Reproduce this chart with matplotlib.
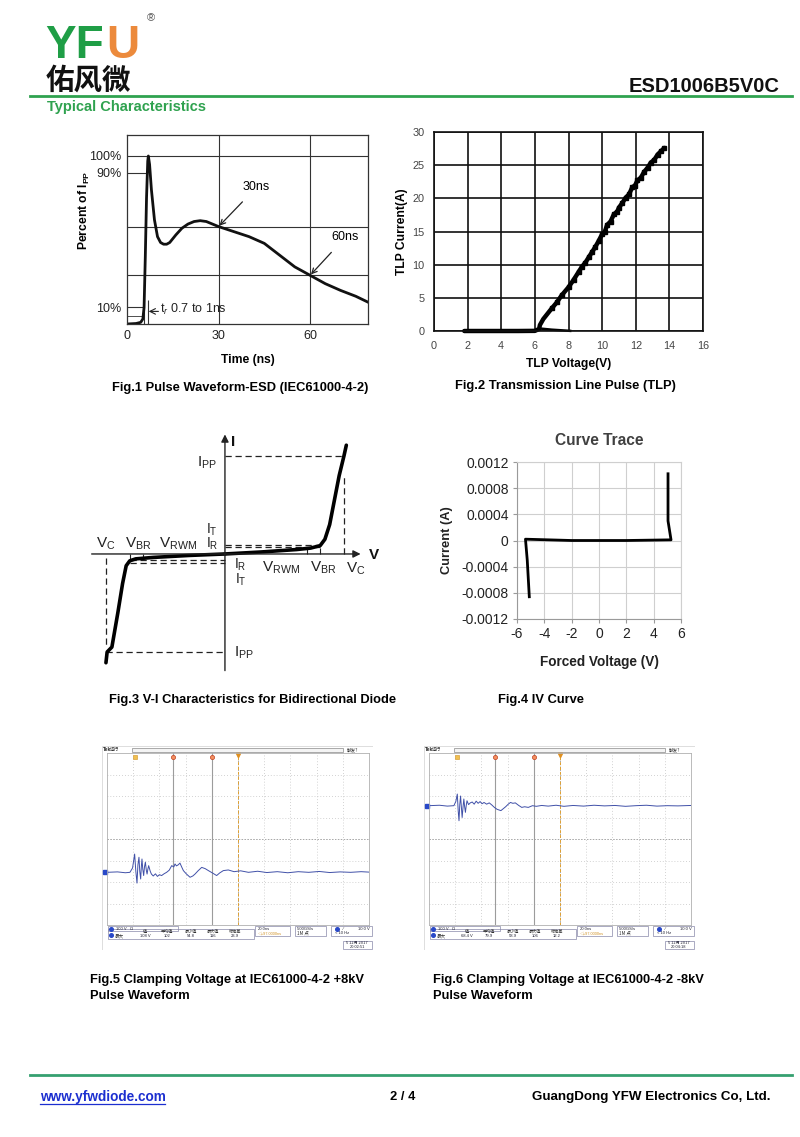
import matplotlib
matplotlib.use('Agg')
import matplotlib.pyplot as plt
from matplotlib.patches import Rectangle
from matplotlib.lines import Line2D

# ---------------- data ----------------
# Fig.1 ESD pulse waveform (time ns, percent of Ipp)
esd_t = [0, 3, 4.5, 5.2, 5.6, 6.0, 6.4, 6.8, 7.0, 7.4, 8, 9, 10, 11, 12, 13, 14, 16, 18, 20, 22, 24, 26,
         28, 30, 35, 40, 45, 50, 55, 60, 65, 70, 75, 79]
esd_p = [0, 0.3, 1, 3, 10, 40, 75, 97, 100, 95, 80, 62, 52, 48.5, 47.5, 47.5, 48.5, 53, 57, 59.5, 61, 61.5, 61,
         59.5, 58, 55, 52, 48, 41, 34, 29, 24, 20, 16.5, 13]
esd_grid_y = [100, 58, 29]
esd_grid_x = [30, 60]
esd_xticks = [0, 30, 60]
esd_yticks = [100, 90, 10]
esd_ytlabels = ['100%', '90%', '10%']

# Fig.2 TLP
tlp_v = [1.8, 3, 4, 5, 6.0, 6.25, 6.3, 6.5, 7.0, 7.3, 7.6, 8.0, 8.3, 8.6, 8.8, 9.0, 9.2, 9.4, 9.6, 9.8,
         10.0, 10.15, 10.3, 10.5, 10.7, 10.9, 11.0, 11.2, 11.4, 11.6, 11.8, 11.95, 12.1, 12.3, 12.5,
         12.7, 12.9, 13.1, 13.3, 13.5, 13.7]
tlp_i = [0, 0, 0, 0, 0.02, 0.3, 0.9, 1.8, 3.4, 4.3, 5.4, 6.6, 7.7, 8.9, 9.7, 10.3, 11.1, 11.9, 12.7, 13.6,
         14.6, 14.9, 16.0, 16.5, 17.6, 18.0, 18.6, 19.3, 20.1, 20.6, 21.7, 21.9, 22.7, 23.1, 24.0,
         24.6, 25.4, 25.8, 26.6, 27.1, 27.6]
tlp_tail_v = [6.4, 7.0, 8.1]
tlp_tail_i = [0.35, 0.2, 0.02]

# Fig.3 V-I characteristic (normalised: Vc = 1, Ipp = 1)
vi_right_v = [0, 0.3, 0.6, 0.72, 0.80, 0.84, 0.88, 0.92, 0.96, 1.00, 1.02]
vi_right_i = [0, 0.02, 0.045, 0.06, 0.085, 0.15, 0.3, 0.55, 0.8, 1.0, 1.11]
vi_left_v = [0, -0.3, -0.6, -0.75, -0.80, -0.83, -0.86, -0.90, -0.95, -0.99, -1.0]
vi_left_i = [0, -0.015, -0.035, -0.05, -0.07, -0.12, -0.3, -0.6, -0.95, -1.0, -1.11]
VC, VBR, VRWM, IPP = 1.0, 0.80, 0.69, 1.0
IT_pos, IR_pos = 0.09, 0.07
IR_neg, IT_neg = -0.06, -0.09

# Fig.4 IV curve trace
iv_v = [-5.1, -5.25, -5.38, -2, 0, 2, 5.27, 5.05, 5.05]
iv_i = [-0.00086, -0.0003, 0.00002, 0.0, 0.0, 0.0, 0.00001, 0.0003, 0.00102]
iv_xticks = [-6, -4, -2, 0, 2, 4, 6]
iv_yticks = [-0.0012, -0.0008, -0.0004, 0, 0.0004, 0.0008, 0.0012]
iv_ytlabels = ['-0.0012', '-0.0008', '-0.0004', '0', '0.0004', '0.0008', '0.0012']

# Fig.5 scope trace (ns, divisions)
s5_t = [0, 8, 14, 17.5, 19.5, 21.1, 22.0, 22.9, 23.6, 24.4, 25.0, 25.7, 26.2, 26.7, 27.3, 28.0, 28.6, 29.3,
        30.0, 30.6, 31.2, 31.8, 33.0, 33.9, 35.3, 37.0, 38.5, 40.0, 41.7, 43.5, 45.5, 47.5, 49.4, 51.0,
        51.9, 53.0, 54.4, 55.7, 57.0, 58.3, 60.5, 63.4, 65.5, 67.2, 69.5, 72.3, 75.0, 77.4, 80.5, 83.7,
        86.0, 88.8, 92.6, 97, 102, 108, 115, 122, 130, 138, 146, 154, 162, 170, 178, 186, 194, 200]
s5_v = [-1.55, -1.53, -1.57, -1.55, -1.35, -0.70, -1.5, -2.05, -1.2, -0.85, -1.5, -1.86, -1.3, -0.93, -1.4,
        -1.70, -1.3, -1.08, -1.45, -1.63, -1.4, -1.24, -1.5, -1.63, -1.72, -1.62, -1.74, -1.66, -1.70,
        -1.62, -1.55, -1.45, -1.24, -1.30, -1.16, -1.25, -1.20, -1.12, -1.30, -1.47, -1.62, -1.78, -1.72,
        -1.63, -1.48, -1.32, -1.38, -1.47, -1.58, -1.70, -1.58, -1.47, -1.44, -1.52, -1.48, -1.55, -1.50,
        -1.56, -1.52, -1.57, -1.52, -1.55, -1.51, -1.56, -1.53, -1.55, -1.52, -1.54]
# Fig.6 scope trace
s6_t = [0, 8, 14, 19.0, 20.5, 21.6, 22.3, 22.9, 23.5, 24.1, 24.7, 25.3, 26.0, 26.6, 27.2, 27.8, 28.4, 29.0,
        30.2, 31.5, 33.0, 34.5, 36.0, 37.5, 39.0, 40.5, 42.0, 44.0, 46.0, 48.0, 49.9, 52.0, 54.9, 56.5,
        58.5, 60.5, 62.2, 64.0, 65.9, 68.5, 70.8, 73.0, 75.8, 79.0, 81.9, 86, 91, 97, 103, 110, 118, 126,
        134, 142, 150, 158, 166, 174, 182, 190, 200]
s6_v = [1.55, 1.57, 1.53, 1.55, 1.75, 2.09, 1.3, 0.85, 1.6, 2.0, 1.5, 1.0, 1.5, 1.86, 1.5, 1.24, 1.55,
        1.78, 1.6, 1.68, 1.72, 1.62, 1.76, 1.66, 1.74, 1.64, 1.70, 1.62, 1.68, 1.58, 1.47, 1.38, 1.32,
        1.40, 1.50, 1.62, 1.70, 1.66, 1.68, 1.56, 1.47, 1.50, 1.47, 1.55, 1.52, 1.56, 1.53, 1.57, 1.52,
        1.56, 1.53, 1.57, 1.54, 1.56, 1.52, 1.55, 1.57, 1.53, 1.55, 1.54, 1.56]
scope_cursors = [50, 80]
scope_trigger = 100
scope_marker = 21
s5_readout = [('30.0000ns', '52.00 V'), ('60.0000ns', '-12.00 V'), ('Δ30.0000ns', 'Δ64.00 V')]
s6_readout = [('30.0000ns', '8.000 V'), ('60.0000ns', '-8.000 V'), ('Δ30.0000ns', 'Δ16.00 V')]
meas_heads = ['值', '平均值', '最小值', '最大值', '标准差']
s5_meas = ['108 V', '102', '54.8', '116', '23.9']
s6_meas = ['68.4 V', '79.9', '58.9', '106', '12.2']
s5_date = ('5 12月 2017', '20:02:51')
s6_date = ('5 12月 2017', '20:04:18')

# ---------------- setup ----------------
W, H = 800, 1137
plt.rcParams['font.family'] = ['Liberation Sans', 'Noto Sans CJK SC', 'DejaVu Sans']
plt.rcParams['mathtext.fontset'] = 'custom'
plt.rcParams['mathtext.rm'] = 'Liberation Sans'
plt.rcParams['mathtext.bf'] = 'Liberation Sans:bold'
plt.rcParams['mathtext.it'] = 'Liberation Sans:italic'
plt.rcParams['axes.unicode_minus'] = False
CJK = ['Noto Sans CJK SC', 'DejaVu Sans']

fig = plt.figure(figsize=(8, 11.37), dpi=100)


def R(x0, y0, x1, y1):
    return [x0 / W, 1 - y1 / H, (x1 - x0) / W, (y1 - y0) / H]


def T(x, y, s, **kw):
    return fig.text(x / W, 1 - y / H, s, **kw)


def HL(x0, x1, y, color, lw):
    fig.add_artist(Line2D([x0 / W, x1 / W], [1 - y / H, 1 - y / H], color=color, lw=lw))


GREEN = '#2fa24f'

# ---------------- header ----------------
T(45, 58, 'YF', fontsize=33, weight='bold', color='#1f9e46', va='baseline')
T(106, 58, 'U', fontsize=33, weight='bold', color='#ec8a3c', va='baseline')
T(147, 18, '®', fontsize=8, color='#555', va='center')
T(46, 81, '佑风微', fontsize=20.5, weight='bold', family=CJK, va='center', color='#111')
T(780, 87, 'ESD1006B5V0C', fontsize=14.5, weight='bold', ha='right', va='center', color='#111')
HL(30, 792, 96, GREEN, 2.0)
T(47, 107, 'Typical Characteristics', fontsize=10.5, weight='bold', color=GREEN, va='center')

# ---------------- Fig.1 ----------------
ax1 = fig.add_axes(R(127, 135, 368, 324))
ax1.set_xlim(0, 79)
ax1.set_ylim(0, 112.5)
for g in esd_grid_y:
    ax1.axhline(g, color='#333', lw=0.8)
for g in esd_grid_x:
    ax1.axvline(g, color='#333', lw=0.8)
ax1.hlines([90], 0, 6.6, color='#333', lw=0.8)
ax1.hlines([10], 0, 5.6, color='#333', lw=0.8)
ax1.hlines([5], 0, 5.3, color='#333', lw=0.6)
ax1.vlines([5.6], 0, 10, color='#333', lw=0.8)
ax1.vlines([6.9], 0, 14, color='#333', lw=0.8)
ax1.plot(esd_t, esd_p, color='#111', lw=2.0, solid_joinstyle='round')
ax1.set_xticks(esd_xticks)
ax1.set_yticks(esd_yticks)
ax1.set_yticklabels(esd_ytlabels)
ax1.tick_params(length=0, labelsize=9, pad=4, colors='#222')
for s in ax1.spines.values():
    s.set_color('#333'); s.set_linewidth(0.9)
ax1.set_xlabel('Time (ns)', fontsize=8.7, weight='bold', labelpad=9)
ax1.set_ylabel(r'Percent of I$_{\mathbf{PP}}$', fontsize=8.7, weight='bold')
ax1.yaxis.set_label_coords(-0.145, 0.6)
ax1.annotate('30ns', xy=(30.3, 58.5), xytext=(42.5, 81.5), fontsize=9, ha='center', va='center',
             arrowprops=dict(arrowstyle='->', lw=0.9, color='#222', shrinkA=6, shrinkB=0))
ax1.annotate('60ns', xy=(60.3, 29.5), xytext=(71.5, 51.5), fontsize=9, ha='center', va='center',
             arrowprops=dict(arrowstyle='->', lw=0.9, color='#222', shrinkA=6, shrinkB=0))
ax1.annotate('', xy=(7.1, 7.5), xytext=(10.3, 7.5),
             arrowprops=dict(arrowstyle='->', lw=0.8, color='#222', shrinkA=0, shrinkB=0))
ax1.text(10.8, 8.5, r't$_r$ 0.7 to 1ns', fontsize=9, va='center', color='#222')
T(240, 388, 'Fig.1 Pulse Waveform-ESD (IEC61000-4-2)', fontsize=9.3, weight='bold', ha='center', va='center')

# ---------------- Fig.2 ----------------
ax2 = fig.add_axes(R(434, 132, 703, 331))
ax2.set_xlim(0, 16)
ax2.set_ylim(0, 30)
ax2.set_xticks(range(0, 17, 2))
ax2.set_yticks(range(0, 31, 5))
ax2.grid(True, color='#111', lw=1.2)
ax2.set_axisbelow(True)
for s in ax2.spines.values():
    s.set_color('#111'); s.set_linewidth(1.2)
ax2.tick_params(length=0, labelsize=7.8, colors='#444', pad=7)
ax2.plot(tlp_v, tlp_i, color='#000', lw=3.2, solid_capstyle='round', solid_joinstyle='round', clip_on=False)
ax2.plot(tlp_v[8:], tlp_i[8:], 's', color='#000', ms=3.2, clip_on=False)
ax2.plot(tlp_tail_v, tlp_tail_i, color='#000', lw=1.8, clip_on=False)
ax2.set_xlabel('TLP Voltage(V)', fontsize=8.7, weight='bold', labelpad=5)
ax2.set_ylabel('TLP Current(A)', fontsize=8.7, weight='bold', labelpad=3)
T(565, 386, 'Fig.2 Transmission Line Pulse (TLP)', fontsize=9.3, weight='bold', ha='center', va='center')

# ---------------- Fig.3 ----------------
ax3 = fig.add_axes(R(85, 430, 385, 675))
ax3.set_xlim(-1.176, 1.345)
ax3.set_ylim(-1.235, 1.265)
ax3.axis('off')
AX = '#222'
ax3.annotate('', xy=(1.14, 0), xytext=(-1.12, 0),
             arrowprops=dict(arrowstyle='-|>', lw=1.0, color=AX, mutation_scale=11, shrinkA=0, shrinkB=0))
ax3.annotate('', xy=(0, 1.22), xytext=(0, -1.19),
             arrowprops=dict(arrowstyle='-|>', lw=1.0, color=AX, mutation_scale=11, shrinkA=0, shrinkB=0))
dash = dict(color=AX, lw=0.9, ls=(0, (5, 3)))
ax3.plot([0, VC], [IPP, IPP], **dash)
ax3.plot([VC, VC], [0, 0.82], **dash)
ax3.plot([-VC, 0], [-IPP, -IPP], **dash)
ax3.plot([-VC, -VC], [-0.04, -0.96], **dash)
ax3.plot([0, VBR], [IT_pos, IT_pos], **dash)
ax3.plot([0, VBR], [IR_pos, IR_pos], **dash)
ax3.plot([-VBR, 0], [IR_neg, IR_neg], **dash)
ax3.plot([-VBR, 0], [IT_neg, IT_neg], **dash)
ax3.vlines([VRWM, VBR], 0, 0.06, color=AX, lw=0.8)
ax3.vlines([-VRWM, -VBR], -0.06, 0, color=AX, lw=0.8)
ax3.plot(vi_right_v, vi_right_i, color='#000', lw=2.6, solid_capstyle='round')
ax3.plot(vi_left_v, vi_left_i, color='#000', lw=2.6, solid_capstyle='round')
lab = dict(fontsize=11, color='#222', ha='center', va='center')
small = dict(fontsize=10, color='#222', ha='center', va='center')
ax3.text(-1.00, 0.10, r'V$_\mathrm{C}$', **lab)
ax3.text(-0.73, 0.10, r'V$_\mathrm{BR}$', **lab)
ax3.text(-0.39, 0.10, r'V$_\mathrm{RWM}$', **lab)
ax3.text(-0.11, 0.25, r'I$_\mathrm{T}$', **small)
ax3.text(-0.11, 0.10, r'I$_\mathrm{R}$', **small)
ax3.text(-0.15, 0.93, r'I$_\mathrm{PP}$', **lab)
ax3.text(0.13, -0.11, r'I$_\mathrm{R}$', **small)
ax3.text(0.13, -0.26, r'I$_\mathrm{T}$', **small)
ax3.text(0.47, -0.14, r'V$_\mathrm{RWM}$', **lab)
ax3.text(0.83, -0.14, r'V$_\mathrm{BR}$', **lab)
ax3.text(1.10, -0.15, r'V$_\mathrm{C}$', **lab)
ax3.text(0.16, -1.01, r'I$_\mathrm{PP}$', **lab)
ax3.text(1.25, -0.01, 'V', fontsize=11, weight='bold', color='#111', ha='center', va='center')
ax3.text(0.07, 1.14, 'I', fontsize=11, weight='bold', color='#111', ha='center', va='center')
T(253, 700, 'Fig.3 V-I Characteristics for Bidirectional Diode', fontsize=9.3, weight='bold', ha='center', va='center')

# ---------------- Fig.4 ----------------
ax4 = fig.add_axes(R(517, 462, 681, 619))
ax4.set_xlim(-6, 6)
ax4.set_ylim(-0.0012, 0.0012)
ax4.set_xticks(iv_xticks)
ax4.set_yticks(iv_yticks)
ax4.set_yticklabels(iv_ytlabels)
ax4.grid(True, color='#cfcfcf', lw=0.8)
ax4.set_axisbelow(True)
for s in ax4.spines.values():
    s.set_color('#cfcfcf'); s.set_linewidth(0.8)
ax4.spines['left'].set_color('#9a9a9a')
ax4.spines['bottom'].set_color('#9a9a9a')
ax4.tick_params(length=3, color='#9a9a9a', labelsize=10, labelcolor='#222', pad=3)
ax4.plot(iv_v, iv_i, color='#000', lw=2.0)
ax4.set_title('Curve Trace', fontsize=11.2, weight='bold', color='#404040', pad=12)
ax4.set_xlabel('Forced Voltage (V)', fontsize=9.8, weight='bold', color='#222', labelpad=10)
ax4.set_ylabel('Current (A)', fontsize=9.3, weight='bold', color='#222', labelpad=6)
T(541, 700, 'Fig.4 IV Curve', fontsize=9.3, weight='bold', ha='center', va='center')


# ---------------- Fig.5 / Fig.6 scopes ----------------
def scope(gx0, t, v, readout, meas, date):
    gy0, gy1 = 753, 925
    gx1 = gx0 + 262
    ov = fig.add_axes(R(gx0 - 5, 746, gx1 + 4, 950))
    ov.set_xlim(gx0 - 5, gx1 + 4)
    ov.set_ylim(950, 746)
    ov.axis('off')
    ov.add_patch(Rectangle((gx0 - 5, 746), 271, 204, fill=False, ec='#d8d8d8', lw=0.6))
    tiny = dict(fontsize=3.3, va='center', family=CJK, color='#333')
    ov.text(gx0 - 4, 749.5, 'Tek', fontsize=3.6, weight='bold', va='center', color='#222')
    ov.text(gx0 + 3, 749.5, '运行', **tiny)
    ov.add_patch(Rectangle((gx0 + 25, 747.5), 211, 4, fc='#f4f4f4', ec='#8a8a8a', lw=0.5))
    ov.text(gx0 + 240, 749.5, '触发?', **tiny)
    # readout box
    ov.add_patch(Rectangle((gx0 + 178, 759), 81, 16, fc='white', ec='#8888aa', lw=0.5, zorder=5))
    for k, (a, b) in enumerate(readout):
        yy = 763 + k * 4.6
        ov.text(gx0 + 198, yy, a, fontsize=3.2, color='#223', va='center', zorder=6)
        ov.text(gx0 + 256, yy, b, fontsize=3.2, color='#223', va='center', ha='right', zorder=6)
        if k < 2:
            ov.plot([gx0 + 184], [yy], 'o', ms=2.6, mfc='#f49060', mec='#c04020', mew=0.4, zorder=6)
    # bottom info
    ov.add_patch(Rectangle((gx0 + 1, 926.5), 70, 4.5, fill=False, ec='#8888aa', lw=0.5))
    ov.plot([gx0 + 4], [928.7], 'o', ms=2.6, color='#2848c8')
    ov.text(gx0 + 9, 928.7, '100 V   Ω', fontsize=3.0, color='#223', va='center')
    ov.add_patch(Rectangle((gx0 + 1, 929.5), 146, 10, fill=False, ec='#8888aa', lw=0.5))
    ov.plot([gx0 + 4], [935.5], 'o', ms=2.6, color='#2848c8')
    ov.text(gx0 + 8, 935.5, '最大', **tiny)
    colx = [38, 60, 84, 106, 128]
    for cx, hd, mv in zip(colx, meas_heads, meas):
        ov.text(gx0 + cx, 931.8, hd, fontsize=3.0, family=CJK, color='#333', va='center', ha='center')
        ov.text(gx0 + cx, 936.3, mv, fontsize=3.0, color='#223', va='center', ha='center')
    ov.add_patch(Rectangle((gx0 + 148, 926.5), 35, 10, fill=False, ec='#8888aa', lw=0.5))
    ov.text(gx0 + 151, 929, '20.0ns', fontsize=3.0, color='#223', va='center')
    ov.text(gx0 + 151, 933.5, '◁+97.0000ns', fontsize=2.8, color='#d09020', va='center')
    ov.add_patch(Rectangle((gx0 + 188, 926.5), 31, 10, fill=False, ec='#8888aa', lw=0.5))
    ov.text(gx0 + 190, 929, '5.00GS/s', fontsize=3.0, color='#223', va='center')
    ov.text(gx0 + 190, 933.5, '1M 点', **tiny)
    ov.add_patch(Rectangle((gx0 + 224, 926.5), 41, 10, fill=False, ec='#8888aa', lw=0.5))
    ov.plot([gx0 + 230], [929], 'o', ms=2.6, color='#2848c8')
    ov.text(gx0 + 236, 929, '⁄', fontsize=3.2, color='#223', va='center')
    ov.text(gx0 + 263, 929, '10.0 V', fontsize=3.0, color='#223', va='center', ha='right')
    ov.text(gx0 + 228, 933.5, '< 10 Hz', fontsize=3.0, color='#223', va='center')
    ov.add_patch(Rectangle((gx0 + 236, 941), 29, 8, fill=False, ec='#8888aa', lw=0.5))
    ov.text(gx0 + 250, 943.3, date[0], fontsize=2.9, family=CJK, color='#223', va='center', ha='center')
    ov.text(gx0 + 250, 947.3, date[1], fontsize=2.9, color='#223', va='center', ha='center')

    ga = fig.add_axes(R(gx0, gy0, gx1, gy1))
    ga.set_xlim(0, 200)
    ga.set_ylim(-4, 4)
    ga.set_xticks([])
    ga.set_yticks([])
    for s in ga.spines.values():
        s.set_color('#b0b0b0'); s.set_linewidth(0.6)
    for xx in range(20, 200, 20):
        ga.axvline(xx, color='#c4c4c4', lw=0.6, ls=(0, (1, 2.5)))
    for yy in range(-3, 4):
        ga.axhline(yy, color='#c4c4c4', lw=0.6, ls=(0, (1, 2.5)))
    ga.axhline(0, color='#a8a8a8', lw=0.7, ls=(0, (1.5, 1.5)))
    ga.axvline(100, color='#a8a8a8', lw=0.7, ls=(0, (1.5, 1.5)))
    for c in scope_cursors:
        ga.axvline(c, color='#9c9c9c', lw=0.8)
    ga.axvline(scope_trigger, color='#e0a030', lw=0.7, ls=(0, (3, 2)))
    ga.plot(t, v, color='#4050a8', lw=0.7)
    ga.plot(scope_cursors, [3.8, 3.8], 'o', ms=3, mfc='#f49060', mec='#c04020', mew=0.5, clip_on=False)
    ga.plot([scope_marker], [3.8], 's', ms=2.6, mfc='#f0c050', mec='#d09020', mew=0.4, clip_on=False)
    ga.plot([scope_trigger], [3.9], 'v', ms=3, color='#e09020', clip_on=False)
    ga.plot([-1.5], [v[0]], 's', ms=3.2, color='#2848c8', clip_on=False)


scope(107, s5_t, s5_v, s5_readout, s5_meas, s5_date)
scope(429, s6_t, s6_v, s6_readout, s6_meas, s6_date)
T(90, 980, 'Fig.5 Clamping Voltage at IEC61000-4-2 +8kV', fontsize=9.3, weight='bold', va='center')
T(90, 996, 'Pulse Waveform', fontsize=9.3, weight='bold', va='center')
T(433, 980, 'Fig.6 Clamping Voltage at IEC61000-4-2 -8kV', fontsize=9.3, weight='bold', va='center')
T(433, 996, 'Pulse Waveform', fontsize=9.3, weight='bold', va='center')

# ---------------- footer ----------------
HL(30, 792, 1075, '#35a070', 2.0)
T(40, 1097, 'www.yfwdiode.com', fontsize=9.8, weight='bold', color='#1c2fd0', va='center')
HL(40, 165, 1104, '#1c2fd0', 0.9)
T(403, 1097, '2 / 4', fontsize=9.3, weight='bold', ha='center', va='center')
T(770, 1097, 'GuangDong YFW Electronics Co, Ltd.', fontsize=9.6, weight='bold', ha='right', va='center')

fig.savefig('out.png', dpi=100, facecolor='white')
